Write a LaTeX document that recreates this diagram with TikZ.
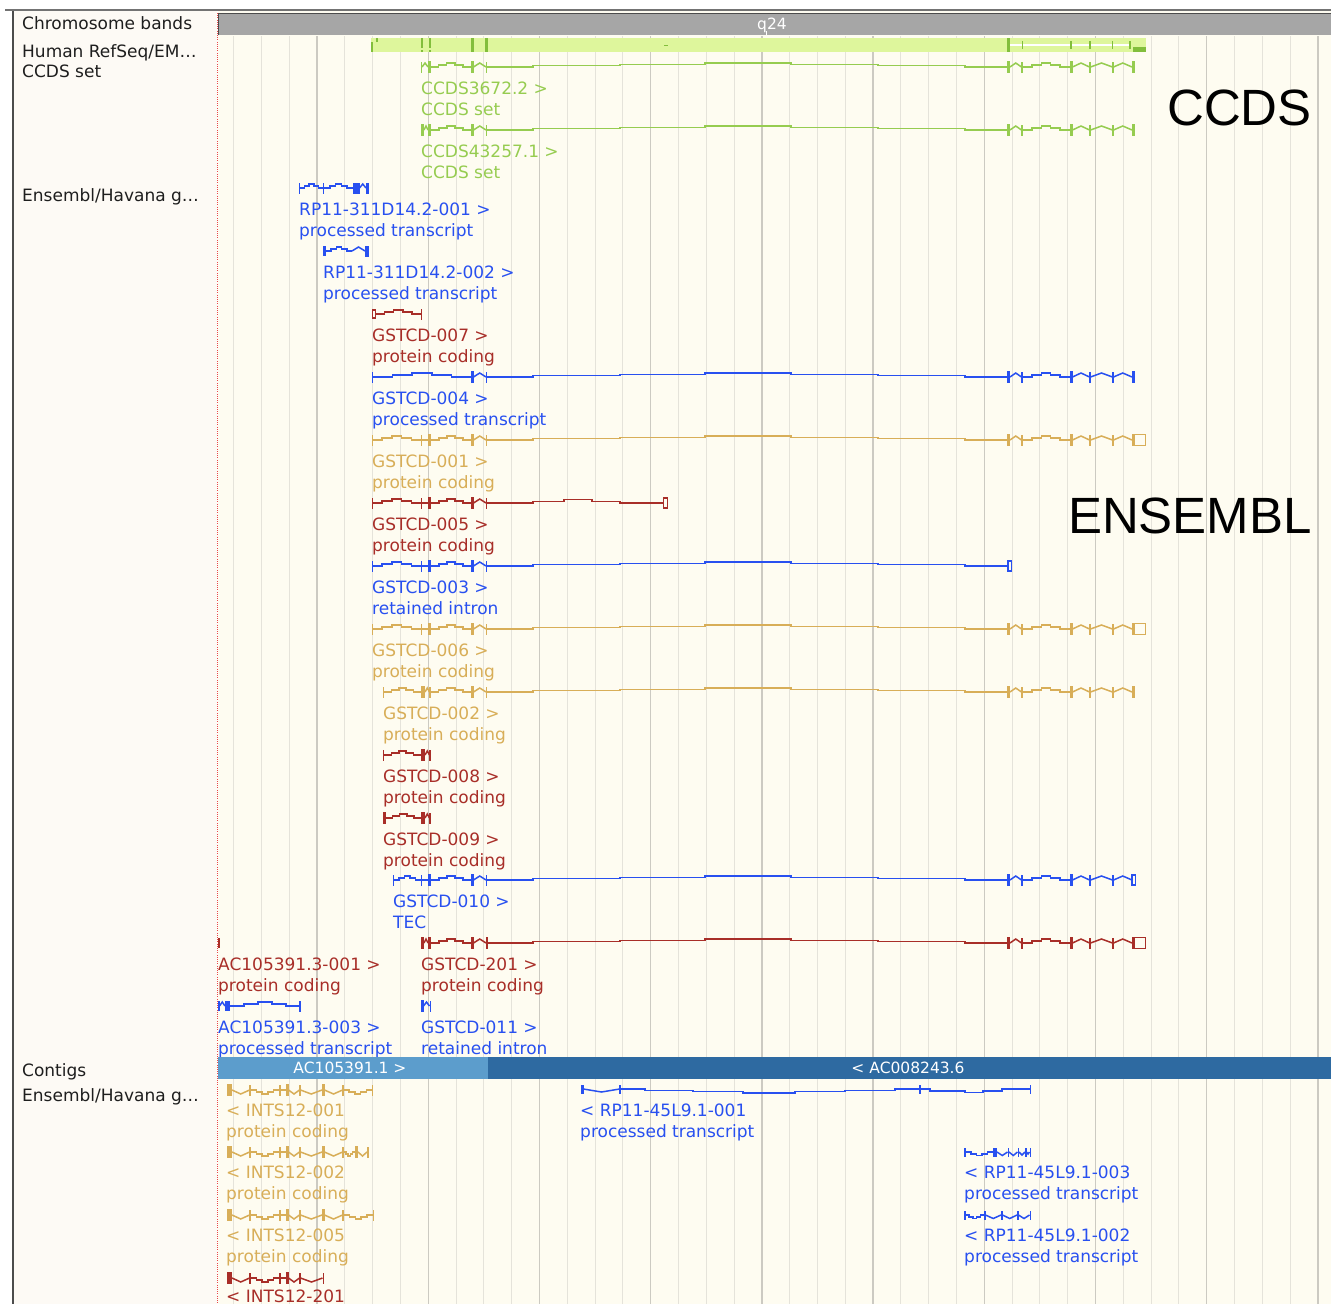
\documentclass[tikz,border=0pt]{standalone}
\usepackage{fontspec}
\setmainfont{DejaVu Sans}
\newfontfamily\arialf{Liberation Sans}
\definecolor{ebl}{RGB}{40,80,240}
\definecolor{erd}{RGB}{168,46,40}
\definecolor{egd}{RGB}{216,174,88}
\definecolor{cgr}{RGB}{150,204,80}
\definecolor{cgrl}{RGB}{222,246,156}
\definecolor{cgrd}{RGB}{130,190,60}
\definecolor{ctl}{RGB}{92,157,204}
\definecolor{ctd}{RGB}{46,106,161}
\definecolor{chg}{RGB}{166,166,166}
\definecolor{bgd}{RGB}{254,252,241}
\definecolor{bgl}{RGB}{253,250,245}
\definecolor{grl}{RGB}{229,227,218}
\definecolor{grd}{RGB}{204,202,194}
\definecolor{lblc}{RGB}{30,30,30}
\definecolor{dotr}{RGB}{232,70,70}
\newcommand\ex[3]{\fill ({#1},{-(#3)}) rectangle ({#2},{#3});}
\newcommand\tk[1]{\ex{#1-0.9}{#1+0.9}{5.5}}
\newcommand\thk[2]{\ex{#1}{#2}{6}}
\newcommand\hatu[3]{\draw (#1,0) -- ({#1+0.2*(#2-#1)},0) -- ({#1+0.2*(#2-#1)},{-0.5*(#3)}) -- ({#1+0.4*(#2-#1)},{-0.5*(#3)}) -- ({#1+0.4*(#2-#1)},{-1*(#3)}) -- ({#1+0.6*(#2-#1)},{-1*(#3)}) -- ({#1+0.6*(#2-#1)},{-0.5*(#3)}) -- ({#1+0.8*(#2-#1)},{-0.5*(#3)}) -- ({#1+0.8*(#2-#1)},0) -- (#2,0);}
\newcommand\tri[3]{\draw (#1,0) -- ({(#1+#2)/2},{-1*(#3)}) -- (#2,0);}
\newcommand\longin{\draw (487,0) -- (533,0) -- (533,-1.3) -- (620,-1.3) -- (620,-2.6) -- (705,-2.6) -- (705,-3.9) -- (791,-3.9) -- (791,-2.6) -- (878,-2.6) -- (878,-1.3) -- (965,-1.3) -- (965,0) -- (1008,0);}
\newcommand\rightpart{\thk{1007}{1010} \tri{1010}{1021.5}{4} \tk{1022} \hatu{1022.5}{1069.5}{4} \thk{1069.5}{1072.5} \tri{1072.5}{1089.5}{4} \tk{1090} \tri{1090.5}{1112.5}{4} \tk{1113} \tri{1113.5}{1132}{4}}
\newcommand\leftA[1]{\tk{#1} \hatu{#1}{421}{4} \tk{421.5} \draw (421.5,0) -- (428,0); \thk{428}{431} \hatu{431}{471}{4} \thk{471}{473.5} \tri{473.5}{486}{4} \tk{486.5}}
\newcommand\boxend{\thk{1132}{1134.5} \draw[line width=1.5pt] (1134.5,-5.5) rectangle (1145.3,5.5);}
\newcommand\intsA{\ex{227}{232}{6} \tri{232}{249.5}{-4} \tk{250} \hatu{250.5}{279.5}{-4} \tk{280} \draw (280.5,0)--(285.5,0); \thk{285.5}{288.5} \tri{288.5}{299.5}{-4} \tk{300}}
\begin{document}
\begin{tikzpicture}[x=1pt,y=-1pt,
  lbl/.style={anchor=base west, inner sep=0pt, font=\fontsize{17}{20}\selectfont},
  side/.style={anchor=base west, inner sep=0pt, font=\fontsize{17}{20}\selectfont, text=lblc},
  big/.style={anchor=base east, inner sep=0pt, font=\arialf\fontsize{51}{60}\selectfont, text=black},
  ctg/.style={anchor=base, inner sep=0pt, font=\fontsize{15.5}{18}\selectfont, text=white},
  gl/.style={line width=1.5pt}]
\useasboundingbox (0,0) rectangle (1331,1304);
% backgrounds
\fill[white] (0,0) rectangle (1331,1304);
\fill[bgl] (14,11) rectangle (217,1304);
\fill[bgd] (218,11) rectangle (1331,1304);
% grid
\foreach \i in {0,...,39} \draw[grl,line width=1.1pt] ({233.7+27.8*\i},36) -- ({233.7+27.8*\i},1304);
\foreach \i in {3,7,...,39} \draw[grd,line width=1.3pt] ({233.7+27.8*\i},36) -- ({233.7+27.8*\i},1304);
% chromosome band
\fill[chg] (218,13) rectangle (1331,35);
\draw[black!70,line width=1pt] (218.5,35) -- (218.5,13.5) -- (1331,13.5);
\draw[white,line width=1pt] (766,31) -- (766,35);
\node[ctg] (q24) at (772,29.5) {q24};
% Human RefSeq collapsed row
\fill[cgrl] (371,38) rectangle (1146,52);
\begin{scope}[cgrd]
\fill (371,42) rectangle (373,52); \fill (376,38) rectangle (377.5,42);
\fill (421,38) rectangle (423,48); \fill (421,50) rectangle (423,52);
\fill (429,38) rectangle (431,48); \fill (429,50) rectangle (431,52);
\fill (471,38) rectangle (473.5,52); \fill (485,38) rectangle (487.5,52);
\fill (664,44.5) rectangle (668,45.8);
\fill (1007,38) rectangle (1010,52);
\fill[white] (1010,44) rectangle (1131,45.5);
\foreach \xx in {1022.5,1071,1090,1112.5,1130} \fill (\xx-0.8,41) rectangle (\xx+0.8,49);
\fill (1133,47) rectangle (1146,52);
\end{scope}
% CCDS rows
\begin{scope}[shift={(0,67)},cgr,gl]
\tk{421.5} \tri{422}{428}{4} \thk{428}{430.5} \hatu{430.5}{471}{4} \thk{471}{473.5} \tri{473.5}{486}{4} \tk{486.5} \longin \rightpart \thk{1132}{1134.5}
\end{scope}
\begin{scope}[shift={(0,130)},cgr,gl]
\thk{421}{424} \tri{424}{428}{4} \thk{428}{431} \hatu{431}{471}{4} \thk{471}{473.5} \tri{473.5}{486}{4} \tk{486.5} \longin \rightpart \thk{1132}{1134.5}
\end{scope}
\node[lbl,cgr] (c1a) at (421,94) {CCDS3672.2 >};
\node[lbl,cgr] (c1b) at (421,115) {CCDS set};
\node[lbl,cgr] (c2a) at (421,157) {CCDS43257.1 >};
\node[lbl,cgr] (c2b) at (421,178) {CCDS set};
% Ensembl rows
\begin{scope}[shift={(0,188)},ebl,gl]
\tk{299.5} \hatu{300}{323}{4} \tk{323.5} \hatu{324}{353}{4} \ex{353}{359.5}{5.5} \tri{359.5}{366}{4} \ex{366}{368.5}{5.5}
\end{scope}
\node[lbl,ebl] (r1a) at (299,215) {RP11-311D14.2-001 >};
\node[lbl,ebl] (r1b) at (299,236) {processed transcript};
\begin{scope}[shift={(0,251)},ebl,gl]
\ex{323}{326}{5} \hatu{326}{352}{4} \tri{352}{365}{4} \ex{365}{368.5}{5.5}
\end{scope}
\node[lbl,ebl] (r2a) at (323,278) {RP11-311D14.2-002 >};
\node[lbl,ebl] (r2b) at (323,299) {processed transcript};
\begin{scope}[shift={(0,314)},erd,gl]
\draw (372.5,-4) rectangle (375.5,4); \hatu{375.5}{421}{4} \tk{421.5}
\end{scope}
\node[lbl,erd] (g7a) at (372,341) {GSTCD-007 >};
\node[lbl,erd] (g7b) at (372,362) {protein coding};
\begin{scope}[shift={(0,377)},ebl,gl]
\tk{372.5} \hatu{373}{471}{4} \thk{471}{473.5} \tri{473.5}{486}{4} \tk{486.5} \longin \rightpart \thk{1132}{1134.5}
\end{scope}
\node[lbl,ebl] (g4a) at (372,404) {GSTCD-004 >};
\node[lbl,ebl] (g4b) at (372,425) {processed transcript};
\begin{scope}[shift={(0,440)},egd,gl]
\leftA{372.5} \longin \rightpart \boxend
\end{scope}
\node[lbl,egd] (g1a) at (372,467) {GSTCD-001 >};
\node[lbl,egd] (g1b) at (372,488) {protein coding};
\begin{scope}[shift={(0,503)},erd,gl]
\leftA{372.5} \draw (487,0) -- (533,0) -- (533,-1.5) -- (564,-1.5) -- (564,-3.5) -- (592,-3.5) -- (592,-1.5) -- (620,-1.5) -- (620,0) -- (663,0);
\draw[line width=1.5pt] (663.5,-5) rectangle (667.5,5);
\end{scope}
\node[lbl,erd] (g5a) at (372,530) {GSTCD-005 >};
\node[lbl,erd] (g5b) at (372,551) {protein coding};
\begin{scope}[shift={(0,566)},ebl,gl]
\leftA{372.5} \longin \draw[line width=1.5pt] (1008,-5) rectangle (1011.5,5);
\end{scope}
\node[lbl,ebl] (g3a) at (372,593) {GSTCD-003 >};
\node[lbl,ebl] (g3b) at (372,614) {retained intron};
\begin{scope}[shift={(0,629)},egd,gl]
\leftA{372.5} \longin \rightpart \boxend
\end{scope}
\node[lbl,egd] (g6a) at (372,656) {GSTCD-006 >};
\node[lbl,egd] (g6b) at (372,677) {protein coding};
\begin{scope}[shift={(0,692)},egd,gl]
\tk{383.5} \hatu{384}{421}{4} \thk{421}{425} \tri{425}{429.5}{4} \tk{430} \hatu{430.5}{471}{4} \thk{471}{473.5} \tri{473.5}{486}{4} \tk{486.5} \longin \rightpart \thk{1132}{1134.5}
\end{scope}
\node[lbl,egd] (g2a) at (383,719) {GSTCD-002 >};
\node[lbl,egd] (g2b) at (383,740) {protein coding};
\begin{scope}[shift={(0,755)},erd,gl]
\tk{383.5} \hatu{384}{421}{4} \thk{421}{425} \tri{425}{429.5}{4} \tk{430}
\end{scope}
\node[lbl,erd] (g8a) at (383,782) {GSTCD-008 >};
\node[lbl,erd] (g8b) at (383,803) {protein coding};
\begin{scope}[shift={(0,818)},erd,gl]
\thk{383}{385.5} \hatu{385.5}{421}{4} \thk{421}{425} \tri{425}{429.5}{4} \tk{430}
\end{scope}
\node[lbl,erd] (g9a) at (383,845) {GSTCD-009 >};
\node[lbl,erd] (g9b) at (383,866) {protein coding};
\begin{scope}[shift={(0,880)},ebl,gl]
\leftA{393.5} \longin \rightpart \draw[line width=1.5pt] (1132,-5) rectangle (1135.5,5);
\end{scope}
\node[lbl,ebl] (g10a) at (393,907) {GSTCD-010 >};
\node[lbl,ebl] (g10b) at (393,928) {TEC};
\begin{scope}[shift={(0,943)},erd,gl]
\thk{421}{424} \tri{424}{428}{4} \thk{428}{431} \hatu{431}{471}{4} \thk{471}{473.5} \tri{473.5}{486}{4} \thk{485.5}{488} \longin \rightpart \boxend
\ex{217.5}{219.5}{5}
\end{scope}
\node[lbl,erd] (g201a) at (421,970) {GSTCD-201 >};
\node[lbl,erd] (g201b) at (421,991) {protein coding};
\node[lbl,erd] (a1a) at (218,970) {AC105391.3-001 >};
\node[lbl,erd] (a1b) at (218,991) {protein coding};
\begin{scope}[shift={(0,1006)},ebl,gl]
\thk{421}{423.5} \tri{423.5}{429.5}{4} \tk{430.5}
\ex{217.8}{219.5}{5} \tri{219.5}{225}{4} \ex{225}{230}{5} \hatu{230}{300}{4} \tk{300}
\end{scope}
\node[lbl,ebl] (g11a) at (421,1033) {GSTCD-011 >};
\node[lbl,ebl] (g11b) at (421,1054) {retained intron};
\node[lbl,ebl] (a3a) at (218,1033) {AC105391.3-003 >};
\node[lbl,ebl] (a3b) at (218,1054) {processed transcript};
% contigs bar
\fill[ctl] (218,1057) rectangle (488,1079);
\fill[ctd] (488,1057) rectangle (1331,1079);
\node[ctg] (ctg1) at (350,1073) {AC105391.1 >};
\node[ctg] (ctg2) at (908,1073) {< AC008243.6};
% bottom track
\begin{scope}[shift={(0,1090)},egd,gl]
\intsA \tri{300.5}{322}{-4} \thk{322}{324.5} \tri{324.5}{342.5}{-4} \tk{343} \hatu{343.5}{372}{-4} \tk{372.5}
\end{scope}
\node[lbl,egd] (i1a) at (226,1116) {< INTS12-001};
\node[lbl,egd] (i1b) at (226,1137) {protein coding};
\begin{scope}[shift={(0,1152)},egd,gl]
\intsA \tri{300.5}{322}{-4} \thk{322}{324.5} \tri{324.5}{342.5}{-4} \tk{343} \hatu{343.5}{355}{-4} \thk{355}{358} \tri{358}{367}{-4} \tk{368}
\end{scope}
\node[lbl,egd] (i2a) at (226,1178) {< INTS12-002};
\node[lbl,egd] (i2b) at (226,1199) {protein coding};
\begin{scope}[shift={(0,1215)},egd,gl]
\intsA \tri{300.5}{322}{-4} \thk{322}{324.5} \tri{324.5}{342.5}{-4} \tk{343} \hatu{343.5}{373}{-4} \tk{373.5}
\end{scope}
\node[lbl,egd] (i5a) at (226,1241) {< INTS12-005};
\node[lbl,egd] (i5b) at (226,1262) {protein coding};
\begin{scope}[shift={(0,1278)},erd,gl]
\intsA \tri{300.5}{322.5}{-4} \tk{323.5}
\end{scope}
\node[lbl,erd] (i201a) at (226,1302.5) {< INTS12-201};
\begin{scope}[shift={(0,1089)},ebl,gl]
\ex{580.5}{583.5}{4.5} \tri{583.5}{619.5}{-3} \ex{619.3}{620.8}{4.5}
\draw (621,0) -- (645,0) -- (645,1.3) -- (693,1.3) -- (693,2.6) -- (743,2.6) -- (743,4) -- (795,4) -- (795,2.6) -- (845,2.6) -- (845,1.3) -- (895,1.3) -- (895,0) -- (920,0);
\ex{919.2}{920.8}{4.5}
\draw (921,0) -- (930,0) -- (930,2) -- (965,2) -- (965,3.5) -- (983,3.5) -- (983,2) -- (1002,2) -- (1002,0) -- (1030,0);
\ex{1029.5}{1031}{4.5}
\end{scope}
\node[lbl,ebl] (p1a) at (580,1116) {< RP11-45L9.1-001};
\node[lbl,ebl] (p1b) at (580,1137) {processed transcript};
\begin{scope}[shift={(0,1152)},ebl,gl]
\ex{964}{965.5}{4.5} \hatu{965.5}{993}{-3.5} \ex{993}{997}{4.5} \tri{997}{1007.5}{-3.5} \ex{1007.5}{1009}{4.5} \tri{1009}{1017.5}{-3.5} \ex{1017.5}{1019}{4.5} \tri{1019}{1025}{-3} \ex{1025}{1026.5}{4.5} \tri{1026.5}{1029.5}{-2} \ex{1029.5}{1031}{4.5}
\end{scope}
\node[lbl,ebl] (p3a) at (964,1178) {< RP11-45L9.1-003};
\node[lbl,ebl] (p3b) at (964,1199) {processed transcript};
\begin{scope}[shift={(0,1215)},ebl,gl]
\ex{964}{965.5}{4.5} \hatu{965.5}{984}{-3.5} \ex{984}{985.5}{4.5} \tri{985.5}{1001}{-3.5} \ex{1001}{1002.5}{4.5} \tri{1002.5}{1017}{-3.5} \ex{1017}{1018.5}{4.5} \tri{1018.5}{1029.5}{-3.5} \ex{1029.5}{1031}{4.5}
\end{scope}
\node[lbl,ebl] (p2a) at (964,1241) {< RP11-45L9.1-002};
\node[lbl,ebl] (p2b) at (964,1262) {processed transcript};
% big labels
\node[big] (ccds) at (1312,125) {CCDS};
\node[big] (ens) at (1312,533) {ENSEMBL};
% side labels
\node[side] (s1) at (22,29) {Chromosome bands};
\node[side] (s2) at (22,57.5) {Human RefSeq/EM…};
\node[side] (s3) at (22,77.5) {CCDS set};
\node[side] (s4) at (22,201) {Ensembl/Havana g…};
\node[side] (s5) at (22,1076.5) {Contigs};
\node[side] (s6) at (22,1101.5) {Ensembl/Havana g…};
% frame lines
\draw[dotr,line width=1pt,dash pattern=on 1pt off 1.2pt] (217.5,13) -- (217.5,1304);
\draw[black!70,line width=1.5pt] (13,10) -- (13,1304);
\draw[black!55,line width=2.5pt] (5,10) -- (1331,10);
\end{tikzpicture}
\end{document}
